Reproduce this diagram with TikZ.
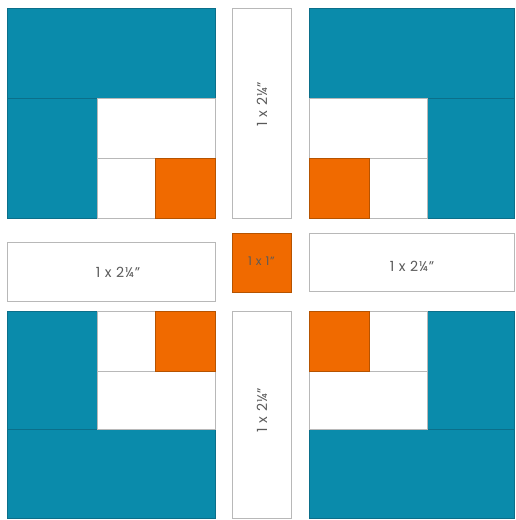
\documentclass[tikz,border=0pt]{standalone}
\usepackage{fontspec}
\setmainfont{Poppins}[LetterSpace=6]
\definecolor{teal}{HTML}{0A8BAB}
\definecolor{tealline}{HTML}{0B6F8A}
\definecolor{orng}{HTML}{F06A00}
\definecolor{orngline}{HTML}{B65300}
\definecolor{edge}{HTML}{B8B8B8}
\definecolor{txt}{HTML}{5A5A5A}
\tikzset{
  tealpc/.style={fill=teal, draw=tealline, line width=0.6pt},
  orngpc/.style={fill=orng, draw=orngline, line width=0.6pt},
  whitepc/.style={fill=white, draw=edge, line width=0.6pt},
  lbl/.style={text=txt, font=\fontsize{14}{16}\selectfont, inner sep=0pt}
}
\begin{document}
\begin{tikzpicture}[x=1pt,y=-1pt]
\useasboundingbox (0,0) rectangle (515,520);
\fill[white] (0,0) rectangle (515,520);
% ---- top-left block
\draw[tealpc] (7,8) rectangle (215,98);
\draw[tealpc] (7,98) rectangle (97,218);
\draw[whitepc] (97,98) rectangle (215,158);
\draw[whitepc] (97,158) rectangle (155,218);
\draw[orngpc] (155,158) rectangle (215,218);
% ---- top-right block
\draw[tealpc] (309,8) rectangle (514,98);
\draw[tealpc] (427,98) rectangle (514,218);
\draw[whitepc] (309,98) rectangle (427,158);
\draw[whitepc] (369,158) rectangle (427,218);
\draw[orngpc] (309,158) rectangle (369,218);
% ---- bottom-left block
\draw[tealpc] (7,429) rectangle (215,518);
\draw[tealpc] (7,311) rectangle (97,429);
\draw[whitepc] (97,371) rectangle (215,429);
\draw[whitepc] (97,311) rectangle (155,371);
\draw[orngpc] (155,311) rectangle (215,371);
% ---- bottom-right block
\draw[tealpc] (309,429) rectangle (514,518);
\draw[tealpc] (427,311) rectangle (514,429);
\draw[whitepc] (309,371) rectangle (427,429);
\draw[whitepc] (369,311) rectangle (427,371);
\draw[orngpc] (309,311) rectangle (369,371);
% ---- sashing
\draw[whitepc] (232,8) rectangle (291,218);
\draw[whitepc] (232,311) rectangle (291,518);
\draw[whitepc] (7,242) rectangle (215,301);
\draw[whitepc] (309,233) rectangle (514,291);
\draw[orngpc] (232,233) rectangle (291,292);
% ---- labels
\node[lbl, rotate=90] (ltop) at (262,104) {1 x 2¼"};
\node[lbl, rotate=90] (lbot) at (262,410) {1 x 2¼"};
\node[lbl] (lleft) at (118,272) {1 x 2¼"};
\node[lbl] (lright) at (412,266) {1 x 2¼"};
\node[lbl, font=\fontsize{12}{14}\selectfont] (lctr) at (261.5,261) {1 x 1"};
\end{tikzpicture}
\end{document}
